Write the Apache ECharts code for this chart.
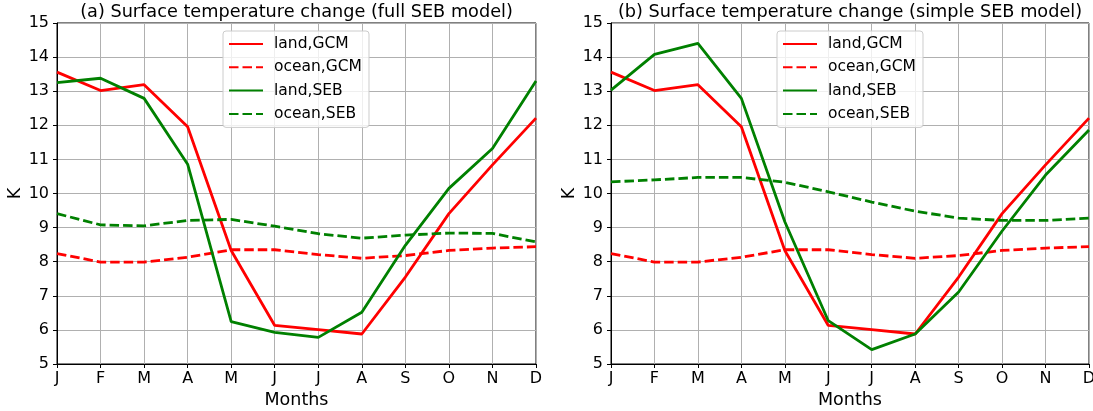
<!DOCTYPE html>
<html>
<head>
<meta charset="utf-8">
<script src="https://cdn.jsdelivr.net/npm/echarts@6/dist/echarts.min.js"></script>
<style>
  html, body { margin: 0; padding: 0; background: #fff; }
  #chart { width: 1093px; height: 411px; }
</style>
</head>
<body>
<div id="chart"></div>
<script>
// Monthly surface temperature change (K)
const months = ['J', 'F', 'M', 'A', 'M', 'J', 'J', 'A', 'S', 'O', 'N', 'D'];

// GCM reference (same in both panels)
const landGCM  = [13.56, 13.02, 13.19, 11.96, 8.33, 6.13, 6.01, 5.88, 7.55, 9.41, 10.84, 12.21];
const oceanGCM = [8.24, 7.99, 7.99, 8.13, 8.35, 8.35, 8.21, 8.10, 8.18, 8.33, 8.40, 8.44];

// (a) full SEB model
const landSEBFull  = [13.25, 13.38, 12.79, 10.86, 6.24, 5.93, 5.78, 6.52, 8.48, 10.15, 11.32, 13.30];
const oceanSEBFull = [9.41, 9.08, 9.05, 9.21, 9.24, 9.04, 8.82, 8.69, 8.78, 8.84, 8.83, 8.58];

// (b) simple SEB model
const landSEBSimple  = [13.03, 14.08, 14.40, 12.79, 9.17, 6.27, 5.42, 5.88, 7.11, 8.90, 10.54, 11.86];
const oceanSEBSimple = [10.34, 10.40, 10.47, 10.47, 10.33, 10.05, 9.75, 9.48, 9.28, 9.21, 9.21, 9.28];

const yTicks = { min: 5, max: 15, interval: 1 };
const titles = ['(a) Surface temperature change (full SEB model)',
                '(b) Surface temperature change (simple SEB model)'];
const names = ['land,GCM', 'ocean,GCM', 'land,SEB', 'ocean,SEB'];

const FONT = 'DejaVu Sans';
const RED = '#ff0000', GREEN = '#008000';
const DASH = [9.5, 4];

const panels = [
  { left: 57, width: 479 },
  { left: 611, width: 478 }
];
const TOP = 23, HEIGHT = 341;

// fixed plot rectangles: no automatic shrinking to fit labels
const grid = panels.map(p => ({
  left: p.left, top: TOP, width: p.width, height: HEIGHT,
  containLabel: false, outerBoundsMode: 'none',
  show: true, borderColor: '#000', borderWidth: 1, backgroundColor: '#fff'
}));

const xAxis = panels.map((p, i) => ({
  type: 'category', gridIndex: i, data: months, boundaryGap: false,
  name: 'Months', nameLocation: 'middle', nameGap: 24,
  nameTextStyle: { fontFamily: FONT, fontSize: 17.5, color: '#000' },
  axisLine: { lineStyle: { color: '#000', width: 1 } },
  axisTick: { show: true, length: 4, lineStyle: { color: '#000' } },
  axisLabel: { fontFamily: FONT, fontSize: 16, color: '#000', margin: 7 },
  splitLine: { show: true, lineStyle: { color: '#b0b0b0', width: 1 } }
}));

const yAxis = panels.map((p, i) => ({
  type: 'value', gridIndex: i, min: yTicks.min, max: yTicks.max, interval: yTicks.interval,
  name: 'K', nameLocation: 'middle', nameGap: 32, nameRotate: 90,
  nameTextStyle: { fontFamily: FONT, fontSize: 17.5, color: '#000' },
  axisLine: { show: true, lineStyle: { color: '#000', width: 1 } },
  axisTick: { show: true, length: 4, lineStyle: { color: '#000' } },
  axisLabel: { fontFamily: FONT, fontSize: 16, color: '#000', margin: 8 },
  splitLine: { show: true, lineStyle: { color: '#b0b0b0', width: 1 } }
}));

function line(name, data, color, dashed, idx) {
  return {
    name, type: 'line', data, xAxisIndex: idx, yAxisIndex: idx,
    symbol: 'none', silent: true, animation: false,
    lineStyle: { color, width: 2.8, type: dashed ? DASH : 'solid' },
    itemStyle: { color }
  };
}

const series = [
  line(names[0], landGCM, RED, false, 0),
  line(names[1], oceanGCM, RED, true, 0),
  line(names[2], landSEBFull, GREEN, false, 0),
  line(names[3], oceanSEBFull, GREEN, true, 0),
  line(names[0], landGCM, RED, false, 1),
  line(names[1], oceanGCM, RED, true, 1),
  line(names[2], landSEBSimple, GREEN, false, 1),
  line(names[3], oceanSEBSimple, GREEN, true, 1)
];

const legendLefts = [223, 777];
const legend = legendLefts.map(l => ({
  data: names, orient: 'vertical', left: l, top: 31,
  itemWidth: 34, itemHeight: 14, itemGap: 6.3,
  padding: [4.5, 7, 5, 5],
  backgroundColor: 'rgba(255,255,255,0.8)', borderColor: '#cccccc', borderWidth: 1, borderRadius: 3,
  selectedMode: false,
  // line-only legend keys: hide the marker drawn at the centre of each key
  itemStyle: { color: 'rgba(0,0,0,0)', borderWidth: 0, opacity: 0 },
  textStyle: { fontFamily: FONT, fontSize: 15.5, lineHeight: 17, color: '#000', padding: [0, 0, 0, 6] }
}));

const title = panels.map((p, i) => ({
  text: titles[i], left: p.left + p.width / 2, top: 3, textAlign: 'center',
  padding: 0,
  textStyle: { fontFamily: FONT, fontSize: 17.7, fontWeight: 'normal', color: '#000' }
}));

const chart = echarts.init(document.getElementById('chart'), null, { renderer: 'canvas' });
chart.setOption({
  animation: false,
  backgroundColor: '#fff',
  title, grid, xAxis, yAxis, legend, series
});
</script>
</body>
</html>
